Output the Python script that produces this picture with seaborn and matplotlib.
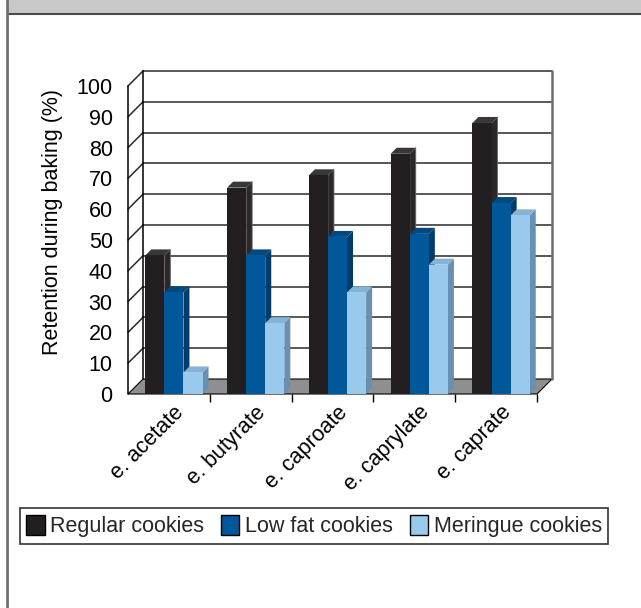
import numpy as np
import pandas as pd
import matplotlib
matplotlib.use("Agg")
import matplotlib.pyplot as plt
import seaborn as sns
from matplotlib.patches import Polygon, Rectangle, Patch
from matplotlib.lines import Line2D
from matplotlib.transforms import ScaledTranslation

# ---- data -------------------------------------------------------------
esters = ["e. acetate", "e. butyrate", "e. caproate", "e. caprylate", "e. caprate"]
cookie_types = ["Regular cookies", "Low fat cookies", "Meringue cookies"]
regular = [45, 67, 71, 78, 88]
low_fat = [33, 45, 51, 52, 62]
meringue = [7, 23, 33, 42, 58]
y_ticks = list(range(0, 101, 10))

front_colors = ["#231f20", "#00589a", "#99c9ec"]
side_colors = ["#2c2829", "#003b69", "#6890b0"]
top_colors = ["#3b3738", "#004a80", "#86b2d4"]

df = pd.DataFrame({
    "ester": esters * 3,
    "cookie": np.repeat(cookie_types, len(esters)),
    "retention": regular + low_fat + meringue,
})

# ---- style ------------------------------------------------------------
sns.set_theme(style="white")
plt.rcParams["font.family"] = ["Liberation Sans", "DejaVu Sans"]
FS = 15.5

W, H = 641, 608
fig = plt.figure(figsize=(W / 100, H / 100), dpi=100)
fig.patch.set_facecolor("white")

# front plane of the 3-D box, in pixels from the top-left corner
L, R, B, T = 128, 537, 394, 86
ax = fig.add_axes([L / W, 1 - B / H, (R - L) / W, (B - T) / H])
ax.set_xlim(-0.5, 4.5)
ax.set_ylim(0, 100)
ax.set_facecolor("none")
for s in ax.spines.values():
    s.set_visible(False)

ux = (R - L) / 5.0      # pixels per category
uy = (B - T) / 100.0    # pixels per percent
ddx, ddy = 15 / ux, 15 / uy   # depth of the box
bdx, bdy = 6 / ux, 6 / uy     # depth of a bar
shift = 5 / ux                # bars sit slightly behind the front edge

# floor
ax.add_patch(Polygon([(-0.5, 0), (4.5, 0), (4.5 + ddx, ddy), (-0.5 + ddx, ddy)],
                     closed=True, facecolor="#8f8f8f", edgecolor="black",
                     lw=0.8, clip_on=False, zorder=1))
# back wall gridlines and side-wall diagonals
for v in y_ticks[1:]:
    ax.plot([-0.5 + ddx, 4.5 + ddx], [v + ddy, v + ddy], color="#2a2a2a",
            lw=1.1, clip_on=False, zorder=1.5)
    ax.plot([-0.5, -0.5 + ddx], [v, v + ddy], color="#2a2a2a",
            lw=1.1, clip_on=False, zorder=1.5)
ax.plot([-0.5 + ddx, -0.5 + ddx], [ddy, 100 + ddy], color="black", lw=1.1,
        clip_on=False, zorder=1.5)
ax.plot([4.5 + ddx, 4.5 + ddx], [ddy, 100 + ddy], color="#6e6e6e", lw=1.8,
        clip_on=False, zorder=1.5)
ax.plot([-0.5, -0.5], [0, 100], color="black", lw=1.1, clip_on=False, zorder=1.5)

# bars
sns.barplot(data=df, x="ester", y="retention", hue="cookie", order=esters,
            hue_order=cookie_types, palette=front_colors, saturation=1,
            width=0.7, errorbar=None, linewidth=0, legend=False, ax=ax)

for h, cont in enumerate(ax.containers):
    for rect in cont:
        x0 = rect.get_x() + shift
        w = rect.get_width()
        v = rect.get_height()
        rect.set_x(x0)
        rect.set_zorder(3 + 0.1 * h + 0.05)
        x1 = x0 + w
        side = Polygon([(x1, 0), (x1, v), (x1 + bdx, v + bdy), (x1 + bdx, bdy)],
                       closed=True, facecolor=side_colors[h],
                       edgecolor="#6a6a6a" if h == 0 else "none", lw=0.6,
                       clip_on=False, zorder=3 + 0.1 * h)
        top = Polygon([(x0, v), (x1, v), (x1 + bdx, v + bdy), (x0 + bdx, v + bdy)],
                      closed=True, facecolor=top_colors[h], edgecolor="none",
                      clip_on=False, zorder=3 + 0.1 * h)
        ax.add_patch(side)
        ax.add_patch(top)

# axes labels and ticks
ax.set_yticks(y_ticks)
ax.tick_params(axis="y", left=False, length=0, pad=11, labelsize=FS, labelcolor="black")
ax.set_xticks(range(len(esters)))
ax.set_xticklabels(esters)
ax.set_xticks([k + 0.5 for k in range(len(esters))], minor=True)
ax.tick_params(axis="x", which="major", bottom=False, length=0, pad=11,
               labelsize=FS, labelcolor="black")
ax.tick_params(axis="x", which="minor", bottom=True, length=6, width=1,
               color="black", direction="out")
label_offset = ScaledTranslation(12 / 100, 0, fig.dpi_scale_trans)
for lbl in ax.get_xticklabels():
    lbl.set_rotation(45)
    lbl.set_ha("right")
    lbl.set_va("center")
    lbl.set_rotation_mode("anchor")
    lbl.set_transform(lbl.get_transform() + label_offset)
ax.set_xlabel("")
ax.set_ylabel("Retention during baking (%)", fontsize=FS, color="black")
ax.yaxis.set_label_coords(-0.16, 0.558)

# legend
handles = [Patch(facecolor=c, edgecolor="black", lw=1) for c in front_colors]
leg = fig.legend(handles, cookie_types, loc="center",
                 bbox_to_anchor=(314 / W, 1 - 526 / H), ncol=3, frameon=True,
                 fancybox=False, edgecolor="black", fontsize=FS,
                 handlelength=0.85, handleheight=1.05, handletextpad=0.25,
                 columnspacing=0.8, borderpad=0.3, borderaxespad=0)
leg.get_frame().set_linewidth(1.2)

# surrounding panel: header band and left rule
fig.add_artist(Rectangle((8 / W, 1 - 13 / H), 1 - 8 / W, 13 / H,
                         transform=fig.transFigure, facecolor="#c8c8c8",
                         edgecolor="none", zorder=0))
fig.add_artist(Line2D([8 / W, 1], [1 - 13.5 / H] * 2, transform=fig.transFigure,
                      color="#4a4a4a", lw=1.5))
fig.add_artist(Line2D([7 / W] * 2, [0, 1], transform=fig.transFigure,
                      color="#707070", lw=2))

fig.savefig("out.png", dpi=100)
